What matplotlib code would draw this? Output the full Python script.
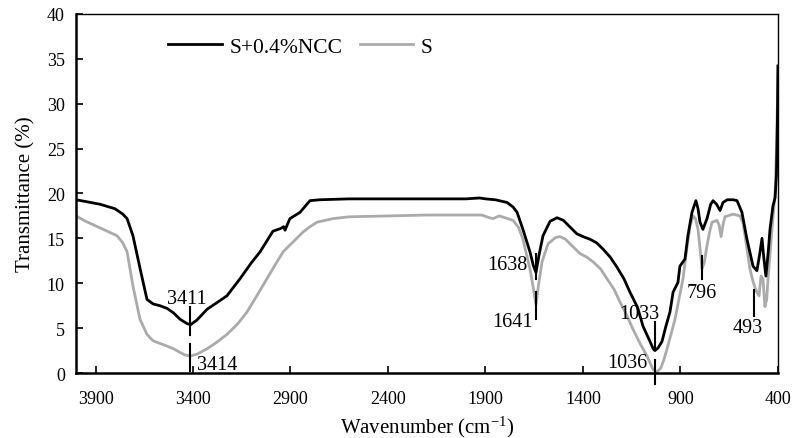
import matplotlib
matplotlib.use("Agg")
import numpy as np
from matplotlib import pyplot as plt

# FTIR spectra (wavenumber in cm-1, transmittance in %)
wn_ncc = [4000, 3950, 3877, 3800, 3760, 3738, 3708, 3670, 3636, 3605, 3570, 3533,
          3500, 3467, 3430, 3411, 3380, 3328, 3280, 3226, 3159, 3100, 3056, 2990,
          2950, 2935, 2928, 2915, 2903, 2851, 2820, 2800, 2750, 2600, 2400, 2200,
          2000, 1930, 1900, 1850, 1790, 1759, 1738, 1708, 1672, 1655, 1641, 1625,
          1605, 1569, 1533, 1500, 1482, 1431, 1400, 1364, 1330, 1297, 1260, 1226,
          1190, 1159, 1120, 1092, 1056, 1040, 1031, 1015, 995, 975, 954, 938, 913,
          903, 877, 862, 841, 821, 810, 800, 785, 764, 745, 733, 715, 697, 682,
          660, 630, 610, 585, 559, 528, 508, 492, 482, 472, 462, 450, 441, 426,
          415, 408, 403, 400]
t_ncc = [19.3, 19.1, 18.8, 18.3, 17.7, 17.2, 15.3, 11.5, 8.2, 7.7, 7.5, 7.2,
         6.7, 6.0, 5.5, 5.4, 5.9, 7.1, 7.8, 8.6, 10.5, 12.3, 13.5, 15.8,
         16.1, 16.3, 15.9, 16.6, 17.2, 17.9, 18.7, 19.2, 19.3, 19.4, 19.4, 19.4,
         19.4, 19.5, 19.4, 19.3, 19.0, 18.5, 17.9, 16.0, 13.5, 12.0, 11.2, 13.2,
         15.3, 16.9, 17.3, 17.0, 16.6, 15.5, 15.2, 14.9, 14.5, 13.8, 12.9, 11.8,
         10.5, 9.0, 7.3, 5.2, 3.5, 2.7, 2.5, 2.8, 3.5, 5.2, 6.8, 9.0, 10.1,
         11.9, 12.7, 15.3, 17.9, 19.2, 18.3, 16.8, 16.0, 17.2, 18.8, 19.2, 18.8, 18.1, 19.0,
         19.3, 19.3, 19.2, 17.9, 14.9, 11.9, 11.4, 13.5, 15.0, 12.7, 10.8, 13.5, 16.0, 18.6,
         19.5, 22.0, 28.0, 34.2]

wn_s = [4000, 3950, 3880, 3820, 3790, 3760, 3738, 3708, 3672, 3636, 3605, 3570,
        3533, 3500, 3467, 3440, 3414, 3380, 3328, 3280, 3226, 3170, 3123, 3070,
        3021, 2980, 2938, 2887, 2836, 2800, 2764, 2682, 2600, 2400, 2200, 2000,
        1920, 1880, 1861, 1830, 1800, 1759, 1730, 1708, 1672, 1655, 1641, 1628,
        1610, 1579, 1540, 1518, 1490, 1467, 1415, 1380, 1349, 1310, 1277, 1240,
        1210, 1175, 1144, 1110, 1072, 1041, 1021, 1000, 985, 969, 950, 928, 910,
        887, 870, 851, 836, 823, 810, 798, 790, 778, 764, 750, 738, 713, 702,
        692, 682, 672, 631, 595, 580, 569, 544, 528, 513, 497, 487, 477, 467,
        458, 451, 440, 431, 415, 408, 403, 400]
t_s = [17.5, 16.9, 16.2, 15.6, 15.3, 14.5, 13.5, 9.7, 6.0, 4.3, 3.6, 3.3,
       3.0, 2.7, 2.3, 2.0, 1.9, 2.1, 2.7, 3.4, 4.3, 5.5, 6.8, 8.7,
       10.5, 12.0, 13.5, 14.6, 15.7, 16.3, 16.8, 17.2, 17.4, 17.5, 17.6, 17.6,
       17.6, 17.3, 17.2, 17.5, 17.3, 17.0, 16.2, 14.9, 11.6, 9.5, 7.6, 9.8,
       12.4, 14.4, 15.1, 15.2, 14.9, 14.4, 13.3, 12.9, 12.4, 11.6, 10.5, 9.3,
       7.9, 6.4, 4.9, 3.4, 1.9, 0.4, 0.1, 0.6, 1.5, 2.7, 4.2, 6.0, 8.0,
       10.5, 13.5, 16.4, 17.5, 17.2, 16.0, 13.5, 11.6, 12.3, 14.2, 15.8, 16.8, 17.0, 16.5,
       15.2, 16.5, 17.4, 17.7, 17.5, 16.8, 15.3, 11.6, 10.2, 9.2, 8.6, 10.8, 10.5, 7.4,
       8.2, 10.5, 13.5, 16.0, 20.0, 25.0, 30.0, 34.2]

series_labels = ["S+0.4%NCC", "S"]
peak_labels = ["3411", "3414", "1638", "1641", "1033", "1036", "796", "493"]
xticks = [3900, 3400, 2900, 2400, 1900, 1400, 900, 400]

plt.rcParams['font.family'] = ['Liberation Serif', 'DejaVu Serif']
plt.rcParams['mathtext.fontset'] = 'custom'
plt.rcParams['mathtext.rm'] = 'Liberation Serif'
plt.rcParams['mathtext.it'] = 'Liberation Serif:italic'

fig = plt.figure(figsize=(7.95, 4.39), dpi=100)
ax = fig.add_axes([0.0956, 0.148, 0.883, 0.818])

ax.plot(wn_ncc, t_ncc, color='black', lw=2.0, label=series_labels[0], zorder=3)
ax.plot(wn_s, t_s, color='#ababab', lw=2.0, label=series_labels[1], zorder=2)

ax.set_xlim(4000, 400)
ax.set_ylim(0, 40)
ax.set_xticks(xticks)
ax.set_yticks(np.arange(0, 41, 5))
ax.tick_params(direction='in', labelsize=13, length=5, width=1.2, pad=8)
ax.tick_params(axis='x', pad=12)

for side in ['left', 'bottom']:
    ax.spines[side].set_linewidth(1.8)
for side in ['top', 'right']:
    ax.spines[side].set_linewidth(1.0)

ax.set_xlabel('Wavenumber (cm$^{\\mathregular{-1}}$)', fontsize=15, labelpad=5)
ax.set_ylabel('Transmittance (%)', fontsize=15, labelpad=8)

# peak markers: (tick x, tick y0, tick y1, text x, text y, ha)
marks = [
    (3413, 4.2, 7.3, 3431, 8.3, 'center'),
    (3413, 0.2, 3.2, 3379, 1.0, 'left'),
    (1641, 10.5, 13.3, 1687, 12.1, 'right'),
    (1641, 6.0, 9.0, 1656, 5.7, 'right'),
    (1031, 2.6, 5.7, 1113, 6.6, 'center'),
    (1031, -1.2, 1.5, 1067, 1.2, 'right'),
    (790, 10.5, 13.0, 790, 9.0, 'center'),
    (523, 6.4, 9.2, 554, 5.1, 'center'),
]
for lab, (mx, y0, y1, tx, ty, ha) in zip(peak_labels, marks):
    ax.plot([mx, mx], [y0, y1], color='black', lw=1.5, clip_on=False, zorder=4)
    ax.text(tx, ty, lab, fontsize=14.5, ha=ha, va='center', zorder=5)

ax.legend(loc='center left', bbox_to_anchor=(0.131, 0.908), ncol=2, frameon=False,
          fontsize=15.5, handlelength=2.5, handletextpad=0.35, columnspacing=0.8,
          borderpad=0, borderaxespad=0)

fig.savefig('out.png', dpi=100)
